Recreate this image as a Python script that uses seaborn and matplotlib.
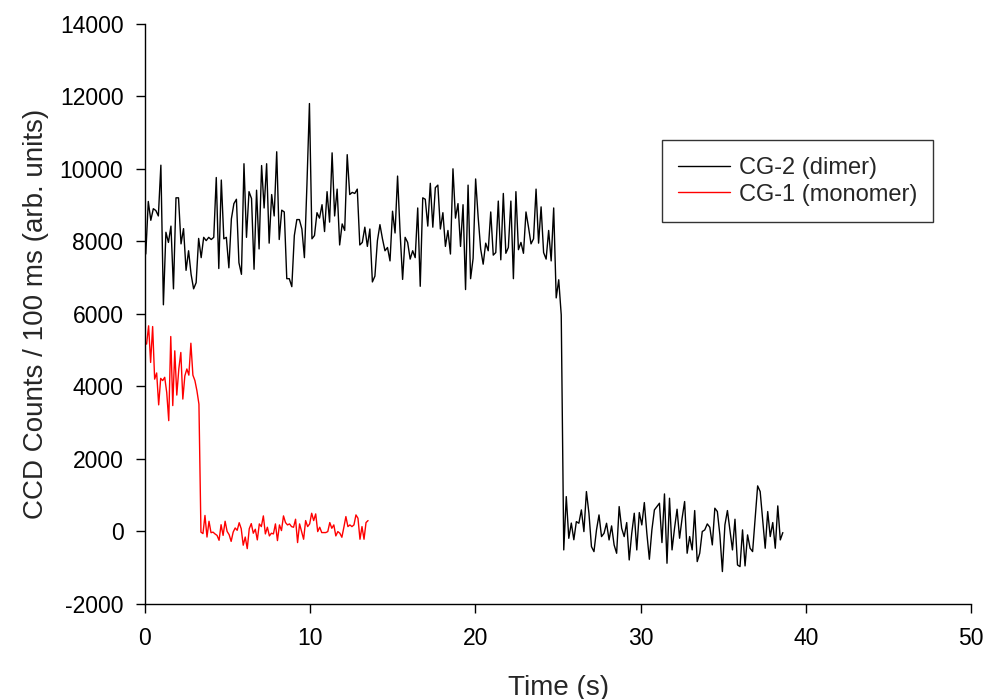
import numpy as np
import pandas as pd
import matplotlib
matplotlib.use("Agg")
import matplotlib.pyplot as plt
import seaborn as sns

# CG-2 (dimer) trace, counts per frame
dimer_counts = [
    7650, 9100, 8580, 8900, 8850, 8700, 10100, 6250, 8250, 7970, 8420, 6690,
    9200, 9200, 7930, 8350, 7200, 7740, 7090, 6690, 6860, 8080, 7550, 8110,
    8020, 8110, 8050, 8110, 9760, 7250, 9690, 8070, 8110, 7270, 8620, 9040,
    9160, 7410, 7090, 10140, 8110, 9370, 9180, 7230,
    9410, 7790, 10090, 8920, 10140, 7950, 9290, 8700, 10470, 8050, 8860, 8810,
    6970, 6970, 6750, 8160, 8600, 8600, 8340, 7550, 9550, 11800, 8070, 8160,
    8790, 8640, 9010, 8270, 9370, 8530, 10440, 8700, 9440, 7900, 8480, 8300,
    10390, 9290, 9350, 9320, 9440,
    7900, 7970, 8390, 7860, 8340, 6880, 7040, 8020, 8460, 8070, 7740, 7830,
    7460, 8830, 8230, 9800, 8250, 6950, 8110, 7970, 7510, 7740, 7550, 8920,
    6760, 9200, 9160, 8420, 9600, 8390, 9480, 9550, 8340, 8790, 7860, 8300,
    7650, 10000, 8640, 9040, 7860, 9010, 6670,
    9550, 6970, 7530, 9720, 8670, 7790, 7370, 7950, 7740, 8810, 7620, 7690,
    9110, 7490, 9320, 7670, 7830, 9110, 6970, 9370, 7770, 7970, 7670, 8810,
    8390, 7930, 8070, 9440, 7950, 8950, 7690, 7510, 8300, 7460, 8920, 6440,
    6940, 5970,
    -510, 960, -190, 230, -230, 270, 225, 593, -5, 1099, 501, -419, -557, 41,
    455, -143, -51, 225, -235, 152, -373, -603, 685, 87, -143, 244, -787, -51,
    501, -511, 519, 179, 795, -51, -768, 41, 593, 685, 777, -308, 1034,
    -878, 915, -510, 88, 612, -188, 364, 824, -602, -142, -510, 575, -832,
    -602, -4, 42, 207, 115, -372, 640, 548, -96, -1107, 180, 575, 42, -510,
    336, -924, -970, 42, -951, -96, -464, -556, 336, 1256, 1100, 318, -464,
    548, -142, 244, -464, 704, -234, -32,
]
dimer_start, dimer_end = 0.05, 38.6

# CG-1 (monomer) trace
monomer_counts = [
    5165, 5670, 4660, 5650, 4200, 4370, 3490, 4220, 4160, 4250, 3830, 3055,
    5375, 3470, 4980, 3760, 4480, 4935, 3650, 4290, 4480, 4310, 5190, 4310,
    4160, 3880, 3510,
    -20, -60, 440, -155, 280, -35, -20, -70, -110, -245, 185, -110, 280, 0,
    -90, -275, -20, 95, 30, 240, 75, -380, -155, -475, 75, 215,
    -50, 60, -234, 207, 133, 428, -69, 115, -124, -50, -69, 207, -253, 179,
    23, 428, 244, 179, 207, 133, 115, 336, -308, 207, -5, -216, 299, 133, 207,
    501, 299, 483, -5, 115, -32, -32, -32, -5, 244, 87, 179, -124, -5, -50,
    -161, 115, 409, 133, 179, 133, 179, 455, 363, -216, 133, -216, 244, 299,
]
monomer_start, monomer_end = 0.1, 13.5

dimer = pd.DataFrame({
    "Time": np.linspace(dimer_start, dimer_end, len(dimer_counts)),
    "Counts": dimer_counts})
monomer = pd.DataFrame({
    "Time": np.linspace(monomer_start, monomer_end, len(monomer_counts)),
    "Counts": monomer_counts})

sns.set_style("ticks")
plt.rcParams["font.family"] = ["Liberation Sans", "DejaVu Sans"]
plt.rcParams["axes.unicode_minus"] = False

fig, ax = plt.subplots(figsize=(9.86, 6.99), dpi=100)
fig.subplots_adjust(left=0.147, right=0.985, top=0.966, bottom=0.136)

sns.lineplot(data=dimer, x="Time", y="Counts", color="black", lw=1.0,
             label="CG-2 (dimer)", ax=ax)
sns.lineplot(data=monomer, x="Time", y="Counts", color="#ff0000", lw=1.0,
             label="CG-1 (monomer)", ax=ax)

ax.set_xlim(0, 50)
ax.set_ylim(-2000, 14000)
ax.set_xticks(range(0, 51, 10))
ax.set_yticks(range(-2000, 14001, 2000))
ax.tick_params(labelsize=16.5, length=6.5, width=1, colors="black", direction="out")
ax.tick_params(axis="x", pad=10)
ax.tick_params(axis="y", pad=9)
ax.set_xlabel("Time (s)", fontsize=20, labelpad=18)
ax.set_ylabel("CCD Counts / 100 ms (arb. units)", fontsize=20, labelpad=8)
sns.despine(ax=ax)
for s in ["left", "bottom"]:
    ax.spines[s].set_color("black")
    ax.spines[s].set_linewidth(1)

leg = ax.legend(loc="upper left", bbox_to_anchor=(0.6256, 0.799), fontsize=17,
                frameon=True, fancybox=False, edgecolor="black",
                borderaxespad=0, handlelength=2.2, handletextpad=0.35,
                borderpad=0.7, labelspacing=0.2)
leg.get_frame().set_linewidth(1)

fig.savefig("out.png", dpi=100)
